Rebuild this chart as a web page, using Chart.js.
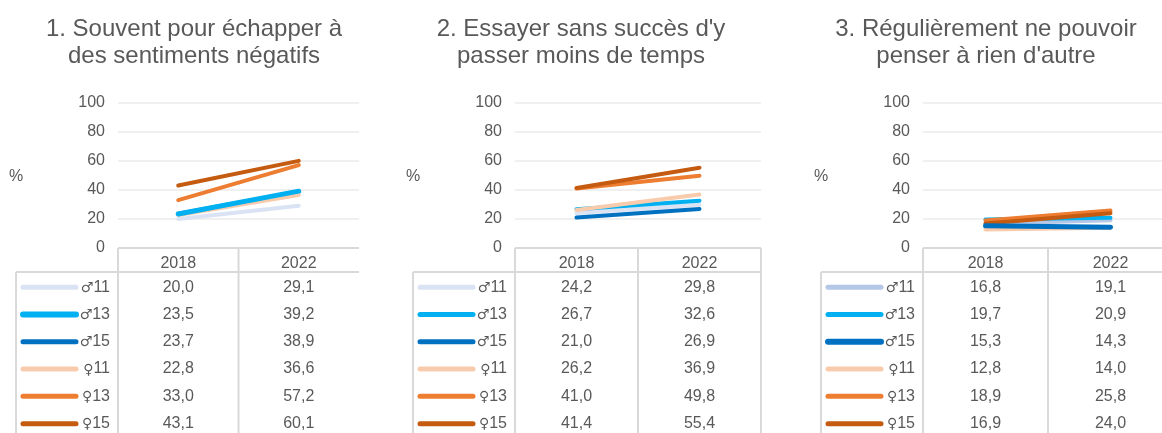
<!DOCTYPE html>
<html lang="fr">
<head>
<meta charset="UTF-8">
<title>Trois indicateurs 2018 / 2022</title>
<script src="https://cdn.jsdelivr.net/npm/chart.js"></script>
<style>
  body { margin: 0; width: 1162px; height: 433px; overflow: hidden; background: #fff; position: relative; }
  canvas { position: absolute; top: 0; }
</style>
</head>
<body>
<canvas id="c1"></canvas>
<canvas id="c2"></canvas>
<canvas id="c3"></canvas>
<script>
// categories et séries
const years = ['2018', '2022'];
const series = ['♂11', '♂13', '♂15', '♀11', '♀13', '♀15'];

// 1. Souvent pour échapper à des sentiments négatifs
const p1_2018 = [20.0, 23.5, 23.7, 22.8, 33.0, 43.1];
const p1_2022 = [29.1, 39.2, 38.9, 36.6, 57.2, 60.1];
// 2. Essayer sans succès d'y passer moins de temps
const p2_2018 = [24.2, 26.7, 21.0, 26.2, 41.0, 41.4];
const p2_2022 = [29.8, 32.6, 26.9, 36.9, 49.8, 55.4];
// 3. Régulièrement ne pouvoir penser à rien d'autre
const p3_2018 = [16.8, 19.7, 15.3, 12.8, 18.9, 16.9];
const p3_2022 = [19.1, 20.9, 14.3, 14.0, 25.8, 24.0];

const yTicks = [0, 20, 40, 60, 80, 100];

const FONT = '"Liberation Sans", Arial, sans-serif';
const SYM = '"DejaVu Sans", sans-serif';
const TXT = '#595959';
const LINE = '#d9d9d9';

// panneau: position du canvas, zone de tracé, centre du titre
function makePanel(id, left, width, plotLeft, plotRight, titleX, title, v1, v2, colors, widths, rightBorder) {
    const cv = document.getElementById(id);
    cv.width = width;
    cv.height = 433;
    cv.style.left = left + 'px';

    const datasets = series.map((s, i) => ({
        label: s,
        data: [v1[i], v2[i]],
        borderColor: colors[i],
        backgroundColor: colors[i],
        borderWidth: widths[i],
        borderCapStyle: 'round',
        pointRadius: 0,
        tension: 0,
        order: widths[i] > 4 ? 0 : 6 - i
    }));

    // titre + tableau de données sous l'axe
    const tablePlugin = {
        id: 'table',
        afterDraw(chart) {
            const ctx = chart.ctx;
            const a = chart.chartArea;
            const x = chart.scales.x;
            const half = (x.getPixelForValue(1) - x.getPixelForValue(0)) / 2;
            const mid = x.getPixelForValue(0) + half;
            const hTop = a.bottom;
            const hBot = a.bottom + 24;
            const tLeft = a.left - 102;
            const rowH = 27.3;
            ctx.save();

            ctx.fillStyle = TXT;
            ctx.font = '24px ' + FONT;
            ctx.textAlign = 'center';
            ctx.textBaseline = 'alphabetic';
            title.forEach((t, i) => ctx.fillText(t, titleX, 36 + i * 27));

            ctx.strokeStyle = LINE;
            ctx.lineWidth = 2;
            ctx.beginPath();
            ctx.moveTo(a.left, hTop); ctx.lineTo(a.right, hTop);
            ctx.moveTo(tLeft, hBot); ctx.lineTo(a.right, hBot);
            ctx.moveTo(a.left, hTop); ctx.lineTo(a.left, 440);
            ctx.moveTo(mid, hTop); ctx.lineTo(mid, 440);
            ctx.moveTo(tLeft, hBot); ctx.lineTo(tLeft, 440);
            if (rightBorder) { ctx.moveTo(a.right, hTop); ctx.lineTo(a.right, 440); }
            ctx.stroke();

            // "%"
            ctx.font = '16px ' + FONT;
            ctx.textBaseline = 'middle';
            ctx.fillText('%', tLeft, (a.top + a.bottom) / 2 + 1);

            chart.data.datasets.forEach((ds, i) => {
                const cy = hBot + rowH / 2 + i * rowH + 1.5;
                ctx.strokeStyle = ds.borderColor;
                ctx.lineWidth = ds.borderWidth + 1;
                ctx.lineCap = 'round';
                ctx.beginPath();
                ctx.moveTo(a.left - 95, cy);
                ctx.lineTo(a.left - 42, cy);
                ctx.stroke();
                ctx.fillStyle = TXT;
                ctx.textAlign = 'right';
                const num = ds.label.slice(1);
                ctx.font = '16px ' + FONT;
                ctx.fillText(num, a.left - 8, cy);
                const w = ctx.measureText(num).width;
                ctx.font = '14px ' + SYM;
                ctx.fillText(ds.label[0], a.left - 8 - w, cy + 1);
                ctx.font = '16px ' + FONT;
                ctx.textAlign = 'center';
                ds.data.forEach((v, j) => {
                    ctx.fillText(v.toFixed(1).replace('.', ','), x.getPixelForValue(j), cy);
                });
            });
            ctx.restore();
        }
    };

    new Chart(cv, {
        type: 'line',
        data: { labels: years, datasets: datasets },
        options: {
            responsive: false,
            animation: false,
            devicePixelRatio: 1,
            layout: { padding: { left: plotLeft - 40, right: width - plotRight, top: 103, bottom: 0 } },
            plugins: {
                legend: { display: false },
                tooltip: { enabled: false },
                title: { display: false }
            },
            scales: {
                x: {
                    offset: true,
                    grid: { display: false, drawTicks: false },
                    border: { display: false },
                    ticks: { color: TXT, font: { family: FONT, size: 16 }, padding: 6 },
                    afterFit(s) { s.height = 185; }
                },
                y: {
                    min: 0, max: 100,
                    afterBuildTicks(s) { s.ticks = yTicks.map(v => ({ value: v })); },
                    grid: {
                        drawTicks: false,
                        lineWidth: 2,
                        color: c => c.tick && c.tick.value === 0 ? 'rgba(0,0,0,0)' : '#f0f0f0'
                    },
                    border: { display: false },
                    ticks: { color: TXT, font: { family: FONT, size: 16 }, padding: 13 },
                    afterFit(s) { s.width = 40; }
                }
            }
        },
        plugins: [tablePlugin]
    });
}

const colA = ['#dae3f3', '#00b0f0', '#0070c0', '#f8cbad', '#ed7d31', '#c55a11'];
const colB = ['#b4c7e7', '#00b0f0', '#0070c0', '#f8cbad', '#ed7d31', '#c55a11'];

makePanel('c1', 0, 388, 118, 359, 194, ['1. Souvent pour échapper à', 'des sentiments négatifs'],
    p1_2018, p1_2022, colA, [4, 5, 4, 4, 4, 4], false);
makePanel('c2', 381, 400, 134, 380, 200, ["2. Essayer sans succès d'y", 'passer moins de temps'],
    p2_2018, p2_2022, colA, [4, 4, 4, 4, 4, 4], true);
makePanel('c3', 782, 408, 141, 391, 204, ['3. Régulièrement ne pouvoir', "penser à rien d'autre"],
    p3_2018, p3_2022, colB, [4, 4, 5, 4, 4, 4], false);
</script>
</body>
</html>
